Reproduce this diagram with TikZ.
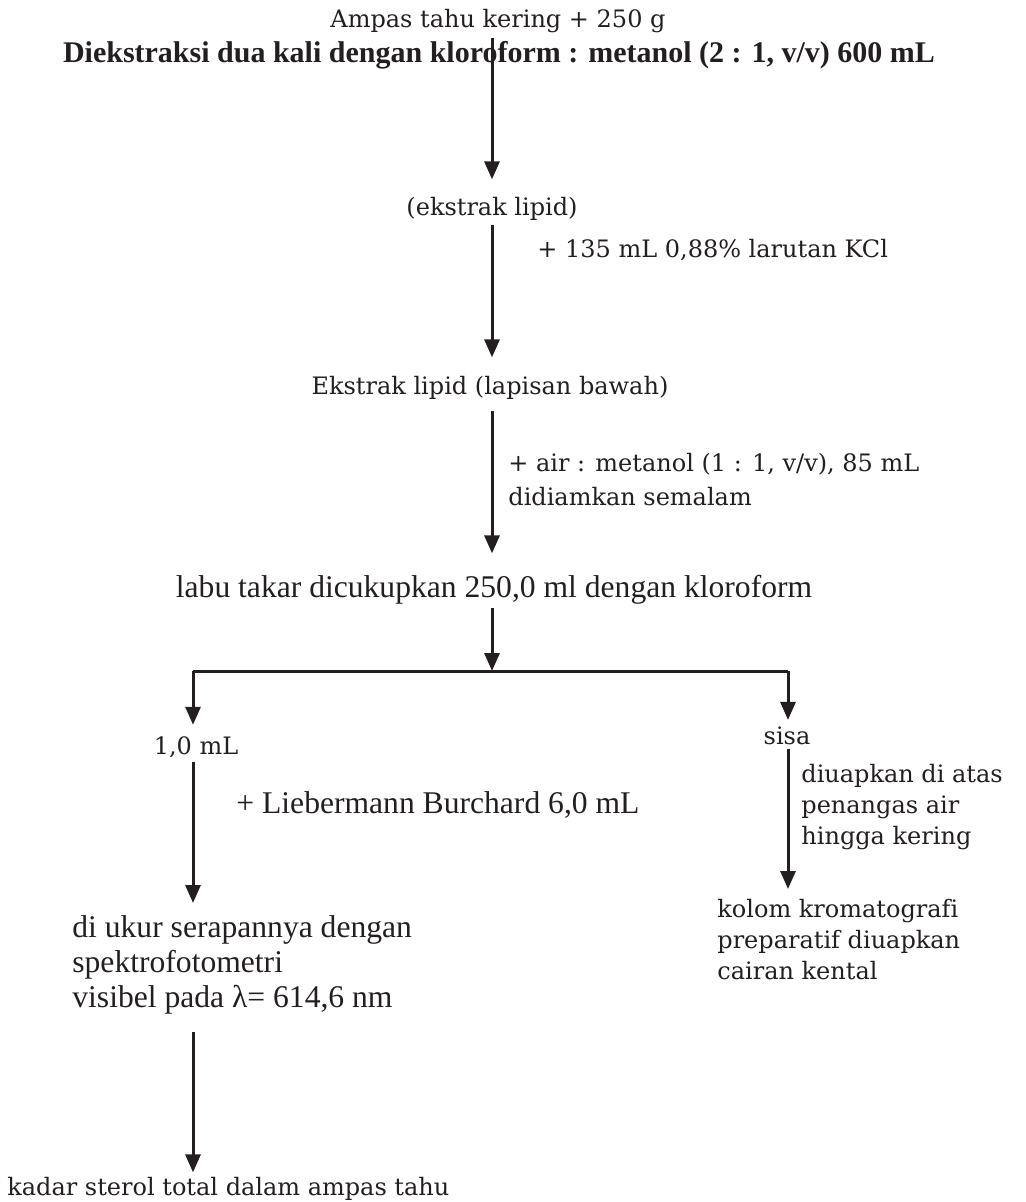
\documentclass[tikz,border=0pt]{standalone}
\usepackage{fontspec}
\setmainfont{DejaVu Serif}[Ligatures=NoCommon]
\newfontfamily\tebalfont{Liberation Serif}
\newfontfamily\sempitfont{Liberation Serif}
\usetikzlibrary{arrows.meta,positioning}
\definecolor{tinta}{HTML}{231F20}
\tikzset{
  txt/.style={inner sep=2pt,text=tinta,font=\fontsize{12}{17}\selectfont,align=left},
  rapat/.style={txt,font=\fontsize{12}{15.5}\selectfont},
  sempit/.style={inner sep=2pt,text=tinta,font=\sempitfont\fontsize{15.8}{17.5}\selectfont,align=left},
  judul/.style={inner sep=2pt,text=tinta,font=\tebalfont\bfseries\fontsize{15}{17}\selectfont},
  flow/.style={draw=tinta,line width=1.5pt,-{Triangle[length=9pt,width=7.5pt]}},
  bar/.style={draw=tinta,line width=1.5pt}
}
\begin{document}
\begin{tikzpicture}[x=.5pt,y=-.5pt]
\useasboundingbox (0,0) rectangle (1025,1202);
% kolom utama
\node[txt,anchor=base] (ampas) at (498,28) {Ampas tahu kering + 250 g};
\node[judul,anchor=base] (ekstraksi) at (499,63) {Diekstraksi dua kali dengan kloroform : metanol (2 : 1, v/v) 600 mL};
\node[txt,anchor=base] (lipid) at (492,216) {(ekstrak lipid)};
\node[txt,anchor=base west] (kcl) at (533,258) {+ 135 mL 0,88\% larutan KCl};
\node[txt,anchor=base] (bawah) at (490,395) {Ekstrak lipid (lapisan bawah)};
\node[txt,anchor=north west] (air) at (504,449) {+ air : metanol (1 : 1, v/v), 85 mL\\didiamkan semalam};
\node[sempit,anchor=base] (labu) at (494,597) {labu takar dicukupkan 250,0 ml dengan kloroform};
\draw[flow] (lipid.north |- ampas.south) -- ([yshift=7pt]lipid.north);
\draw[flow] (lipid.south) -- ([yshift=7.5pt]lipid.north |- bawah.north);
\draw[flow] ([yshift=-3.5pt]lipid.south |- bawah.south) -- ([yshift=8.5pt]lipid.north |- labu.north);
% percabangan
\coordinate (cabang) at (492,671);
\coordinate (kiri) at (193,671);
\coordinate (kanan) at (788,671);
\draw[flow] (cabang |- labu.south) -- (cabang);
\draw[bar] (kiri) -- (kanan);
\node[txt,anchor=base] (satu) at (196,754) {1,0 mL};
\node[txt,anchor=base] (sisa) at (787,744) {sisa};
\draw[flow] (kiri) -- ([yshift=3.5pt]kiri |- satu.north);
\draw[flow] (kanan) -- ([yshift=1pt]kanan |- sisa.north);
% cabang kiri
\node[sempit,anchor=base west] (lb) at (232,813) {+ Liebermann Burchard 6,0 mL};
\node[sempit,anchor=north west] (ukur) at (68,911) {di ukur serapannya dengan\\spektrofotometri\\visibel pada λ= 614,6 nm};
\node[txt,anchor=base west] (kadar) at (3,1195) {kadar sterol total dalam ampas tahu};
\draw[flow] (kiri |- satu.south) -- ([yshift=4pt]kiri |- ukur.north);
\draw[flow] ([yshift=-7pt]kiri |- ukur.south) -- (kiri |- kadar.north);
% cabang kanan
\node[rapat,anchor=north west] (uap) at (797,760) {diuapkan di atas\\penangas air\\hingga kering};
\node[rapat,anchor=north west] (kolom) at (713,895) {kolom kromatografi\\preparatif diuapkan\\cairan kental};
\draw[flow] (kanan |- sisa.south) -- ([yshift=3pt]kanan |- kolom.north);
\end{tikzpicture}
\end{document}
